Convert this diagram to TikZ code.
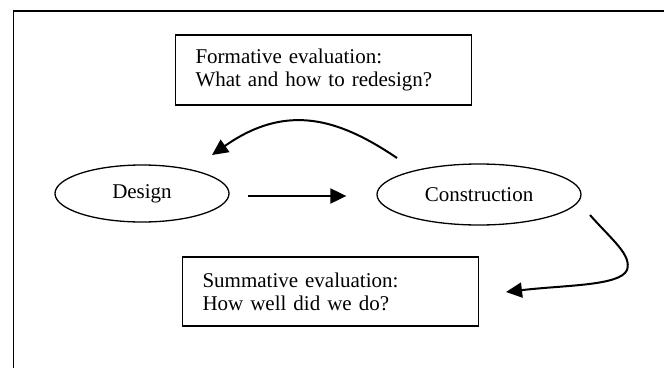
\documentclass[tikz,border=0pt]{standalone}
\usepackage{fontspec}
\setmainfont{Liberation Serif}
\usetikzlibrary{shapes.geometric,arrows.meta}
\begin{document}
\begin{tikzpicture}[x=1pt,y=-1pt,
  txt/.style={font=\fontsize{21}{23}\selectfont},
  box/.style={txt,draw,line width=1.4pt,rectangle,text width=256pt,
    inner xsep=20pt,inner ysep=0pt,align=left},
  stage/.style={txt,draw,ellipse,line width=1.3pt,inner sep=0pt},
  flow/.style={line width=2pt,-{Triangle[length=16pt,width=15pt]}}]
  \clip (0,0) rectangle (664,367);
  % page frame (runs off the right and bottom edges)
  \draw[line width=1.6pt] (13.3,420) -- (13.3,11) -- (720,11);

  \node[box,minimum height=70pt] (formative) at (323.5,70)
    {Formative evaluation:\\What and how to redesign?};
  \node[box,minimum height=69pt] (summative) at (330.5,291.5)
    {Summative evaluation:\\How well did we do?};

  \node[stage,minimum width=174pt,minimum height=57pt] (design) at (142,193.5) {Design};
  \node[stage,minimum width=204pt,minimum height=61pt] (construction) at (479,194.5) {Construction};

  % free ends of the curved connectors
  \coordinate (fbStart) at (397,158);
  \coordinate (fbEnd) at (212,155);
  \coordinate (sumStart) at (590,215);
  \coordinate (sumEnd) at (506,292);

  \draw[flow] ([xshift=18pt,yshift=-1.5pt]design.east|-construction.center)
    -- ([xshift=-30pt,yshift=-1.5pt]construction.west);
  \draw[flow] (fbStart) .. controls (338,118) and (286,103) .. (fbEnd);
  \draw[flow] (sumStart) .. controls (612,240) and (632,255) .. (627,270)
    .. controls (620,286) and (565,285) .. (sumEnd);
\end{tikzpicture}
\end{document}
